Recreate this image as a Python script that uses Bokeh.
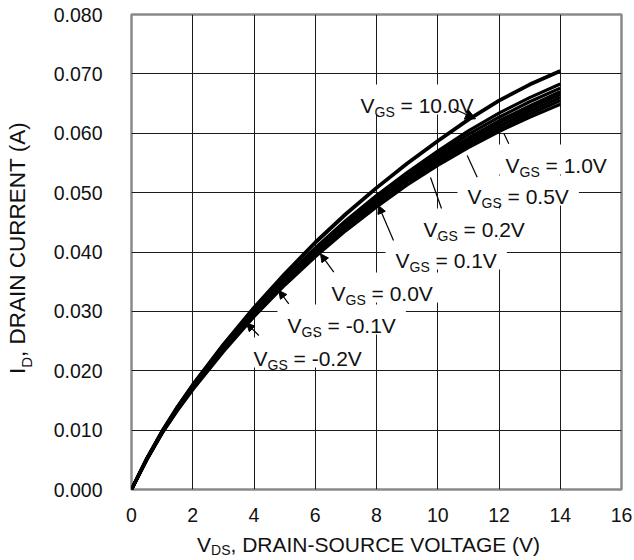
from bokeh.plotting import figure
from bokeh.models import Range1d, FixedTicker, Arrow, NormalHead, Div
from bokeh.layouts import row, column
from bokeh.core.properties import value
from bokeh.embed import file_html
from bokeh.resources import INLINE

# ---------------- data ----------------
vds = [0, 0.5, 1, 1.5, 2, 3, 4, 5, 6, 7, 8, 9, 10, 11, 12, 13, 14]
id_vgs_10_0 = [0, 0.0052, 0.0098, 0.0139, 0.0176, 0.0244, 0.0306, 0.0363, 0.0416, 0.0464, 0.0508, 0.0549, 0.0587, 0.0623, 0.0655, 0.0682, 0.0705]
id_vgs_1_0 = [0, 0.0052, 0.0098, 0.0139, 0.0176, 0.0243, 0.0303, 0.0357, 0.0407, 0.0453, 0.0495, 0.0534, 0.0570, 0.0604, 0.0634, 0.0660, 0.0683]
id_vgs_0_5 = [0, 0.0052, 0.0097, 0.0138, 0.0175, 0.0241, 0.0301, 0.0354, 0.0404, 0.0450, 0.0491, 0.0530, 0.0565, 0.0598, 0.0627, 0.0653, 0.0676]
id_vgs_0_2 = [0, 0.0051, 0.0097, 0.0137, 0.0173, 0.0239, 0.0299, 0.0352, 0.0401, 0.0447, 0.0488, 0.0526, 0.0561, 0.0592, 0.0621, 0.0646, 0.0670]
id_vgs_0_1 = [0, 0.0051, 0.0096, 0.0136, 0.0172, 0.0237, 0.0297, 0.0350, 0.0399, 0.0444, 0.0485, 0.0523, 0.0557, 0.0588, 0.0617, 0.0642, 0.0665]
id_vgs_0_0 = [0, 0.0051, 0.0096, 0.0135, 0.0171, 0.0236, 0.0295, 0.0348, 0.0397, 0.0442, 0.0482, 0.0520, 0.0554, 0.0584, 0.0612, 0.0637, 0.0660]
id_vgs_m0_1 = [0, 0.0050, 0.0095, 0.0134, 0.0170, 0.0234, 0.0293, 0.0346, 0.0394, 0.0439, 0.0479, 0.0516, 0.0550, 0.0580, 0.0607, 0.0632, 0.0655]
id_vgs_m0_2 = [0, 0.0050, 0.0095, 0.0133, 0.0168, 0.0232, 0.0291, 0.0344, 0.0392, 0.0436, 0.0476, 0.0513, 0.0546, 0.0576, 0.0603, 0.0627, 0.0649]

band_series = [id_vgs_1_0, id_vgs_0_5, id_vgs_0_2, id_vgs_0_1, id_vgs_0_0, id_vgs_m0_1, id_vgs_m0_2]

x_ticks = [0, 2, 4, 6, 8, 10, 12, 14, 16]
y_ticks = [0.0, 0.01, 0.02, 0.03, 0.04, 0.05, 0.06, 0.07, 0.08]
y_tick_labels = ["0.000", "0.010", "0.020", "0.030", "0.040", "0.050", "0.060", "0.070", "0.080"]

curve_labels = ["10.0V", "1.0V", "0.5V", "0.2V", "0.1V", "0.0V", "-0.1V", "-0.2V"]

# ---------------- layout (page pixels) ----------------
PAGE_W, PAGE_H = 634, 560
YDIV_W = 40
XDIV_H = 33
L, R, T, B = 131, 13, 14, 71          # frame borders in page pixels
FIG_W = PAGE_W - YDIV_W
FIG_H = PAGE_H - XDIV_H
FW = PAGE_W - L - R
FH = PAGE_H - T - B
X0, X1, Y0, Y1 = 0, 16, 0, 0.08
DX = (X1 - X0) / FW
DY = (Y1 - Y0) / FH


def px2x(px):
    return X0 + (px - L) * DX


def py2y(py):
    return Y0 + (T + FH - py) * DY


CW = {' ': 0.278, '=': 0.584, '.': 0.278, '-': 0.333, 'V': 0.667, 'G': 0.778, 'S': 0.667}
for d in "0123456789":
    CW[d] = 0.556


def tw(s, size):
    return sum(CW.get(c, 0.6) for c in s) * size


FONT = "Liberation Sans"
F = 21
FS = 14
SUB_DROP = 6.5
INK = "#111111"

p = figure(width=FIG_W, height=FIG_H, x_range=Range1d(X0, X1), y_range=Range1d(Y0, Y1),
           output_backend="svg", toolbar_location=None,
           min_border_left=L - YDIV_W, min_border_right=R, min_border_top=T,
           min_border_bottom=B - XDIV_H, margin=0)
p.background_fill_color = "white"
p.border_fill_color = "white"
p.outline_line_color = "#8a8a8a"
p.outline_line_width = 2.5

p.xaxis.ticker = FixedTicker(ticks=x_ticks)
p.yaxis.ticker = FixedTicker(ticks=y_ticks)
p.yaxis.major_label_overrides = {t: s for t, s in zip(y_ticks, y_tick_labels)}
for ax in (p.xaxis, p.yaxis):
    ax.axis_line_color = None
    ax.major_tick_line_color = None
    ax.minor_tick_line_color = None
    ax.major_tick_out = 0
    ax.major_tick_in = 0
    ax.major_label_text_font = FONT
    ax.major_label_text_font_size = "19.5px"
    ax.major_label_text_color = INK
p.xaxis.major_label_standoff = 18
p.yaxis.major_label_standoff = 29

p.xgrid.ticker = FixedTicker(ticks=x_ticks)
p.ygrid.ticker = FixedTicker(ticks=y_ticks)
p.grid.grid_line_color = "#1a1a1a"
p.grid.grid_line_width = 1
p.grid.grid_line_alpha = 1.0

# ---------------- label boxes (white, under curves) ----------------
label_pos = [(360, 97), (505, 157), (467, 188), (423, 221), (395, 252), (331, 285), (287, 317), (253, 350)]
box_x, box_y, box_w = [], [], []
big_x, big_y, big_t = [], [], []
sub_x, sub_y, sub_t = [], [], []
for txt, (lx, cy) in zip(curve_labels, label_pos):
    rest = "= " + txt
    wv = tw("V", F)
    wsub = tw("GS", FS)
    wsp = tw(" ", F)
    wr = tw(rest, F)
    total = wv + wsub + wsp + wr
    base_py = cy + 0.358 * F
    box_x.append(px2x(lx + total / 2))
    box_y.append(py2y(cy + 2))
    box_w.append(total + 20)
    big_x += [px2x(lx), px2x(lx + wv + wsub + wsp)]
    big_y += [py2y(base_py), py2y(base_py)]
    big_t += ["V", rest]
    sub_x.append(px2x(lx + wv))
    sub_y.append(py2y(base_py + SUB_DROP))
    sub_t.append("GS")

p.rect(x=box_x, y=box_y, width=box_w, height=[30] * len(box_x),
       width_units="screen", height_units="screen", fill_color="white", line_color=None)

# ---------------- curves ----------------
for s in band_series:
    p.line(vds, s, line_color="black", line_width=3.2, line_join="round")
p.line(vds, id_vgs_10_0, line_color="black", line_width=3.8, line_join="round")

# ---------------- label texts ----------------
p.text(x=big_x, y=big_y, text=big_t, text_font=value(FONT), text_font_size=value(f"{F}px"),
       text_align="left", text_baseline="alphabetic", text_color=INK)
p.text(x=sub_x, y=sub_y, text=sub_t, text_font=value(FONT), text_font_size=value(f"{FS}px"),
       text_align="left", text_baseline="alphabetic", text_color=INK)

# leader lines (px): plain lines and arrows
plain = [((508.3, 143.3), (503.3, 132.7)), ((476.7, 176.7), (466.7, 155.0)), ((441.0, 208.0), (430.0, 177.0))]
p.segment(x0=[px2x(a[0]) for a, b in plain], y0=[py2y(a[1]) for a, b in plain],
          x1=[px2x(b[0]) for a, b in plain], y1=[py2y(b[1]) for a, b in plain],
          line_color="black", line_width=1.2)
arrows = [((453.3, 108.3), (475.0, 118.3), 10), ((393.0, 240.0), (378.0, 205.0), 8),
          ((333.3, 271.7), (320.0, 253.3), 8), ((288.3, 303.3), (278.3, 290.0), 8),
          ((258.3, 335.0), (246.0, 322.7), 8)]
for a, b, sz in arrows:
    p.add_layout(Arrow(end=NormalHead(size=sz, fill_color="black", line_color="black", line_width=1),
                       x_start=px2x(a[0]), y_start=py2y(a[1]), x_end=px2x(b[0]), y_end=py2y(b[1]),
                       line_color="black", line_width=1.2))

# ---------------- axis titles (HTML, with real subscripts) ----------------
x_title_html = (
    f'<div style="position:relative;width:{FIG_W}px;height:{XDIV_H}px;">'
    f'<div style="position:absolute;left:{197 - YDIV_W}px;top:6px;white-space:nowrap;'
    f'font-family:\'{FONT}\';font-size:21px;line-height:24px;color:{INK};">'
    f'V<span style="font-size:14px;line-height:14px;position:relative;top:3px;">DS</span>, DRAIN-SOURCE VOLTAGE (V)'
    f'</div></div>'
)
y_title_html = (
    f'<div style="position:relative;width:{YDIV_W}px;height:{PAGE_H}px;">'
    f'<div style="position:absolute;left:5px;top:374px;white-space:nowrap;'
    f'transform:rotate(-90deg);transform-origin:0 0;'
    f'font-family:\'{FONT}\';font-size:22.5px;line-height:26px;color:{INK};">'
    f'I<span style="font-size:15px;position:relative;top:7px;">D</span>, DRAIN CURRENT (A)'
    f'</div></div>'
)
xdiv = Div(text=x_title_html, width=FIG_W, height=XDIV_H, margin=0)
ydiv = Div(text=y_title_html, width=YDIV_W, height=PAGE_H, margin=0)

layout = row(ydiv, column(p, xdiv, spacing=0, margin=0), spacing=0, margin=0)

open("out.html", "w").write(file_html(layout, INLINE))
